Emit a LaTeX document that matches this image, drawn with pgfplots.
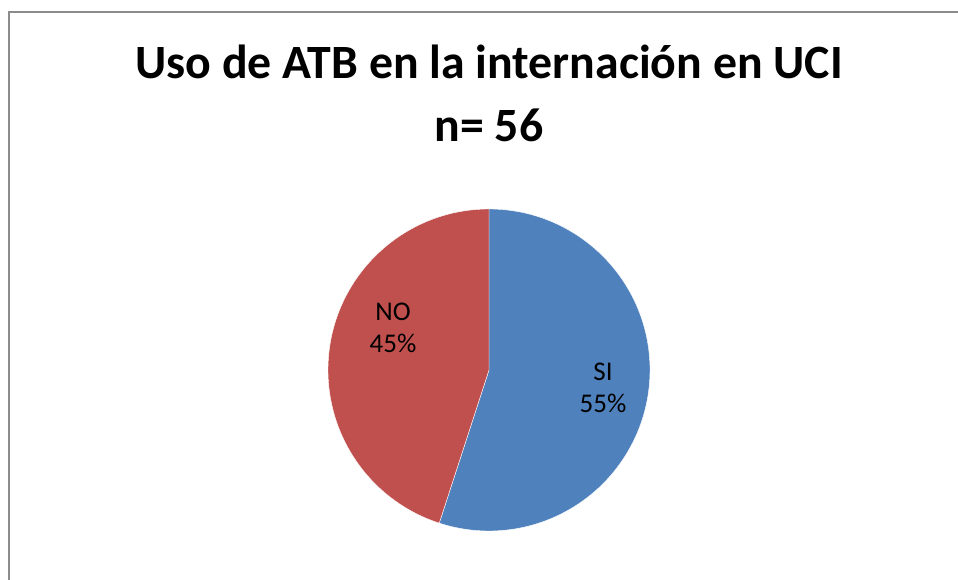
\documentclass[border=0pt]{standalone}
\usepackage{fontspec}
\setmainfont{Carlito}
\usepackage{pgfplots}
\pgfplotsset{compat=1.18}
\definecolor{siblue}{HTML}{4F81BD}
\definecolor{nored}{HTML}{C0504D}
\definecolor{frame}{HTML}{8C8C8C}

% shares of the pie (percent)
\pgfmathsetmacro{\si}{55}
\pgfmathsetmacro{\no}{45}
\pgfmathsetmacro{\siangle}{-3.6*\si}
\pgfmathsetmacro{\noangle}{3.6*\no}

\begin{document}
\begin{tikzpicture}
\begin{axis}[
  scale only axis, width=958pt, height=579pt,
  xmin=0, xmax=958, ymin=0, ymax=579,
  hide axis, clip=false,
]
\fill[siblue, draw=white, line width=0.4pt] (axis cs:489,209) -- (axis cs:489,370)
  arc[start angle=90, delta angle=\siangle, radius=161pt] -- cycle;
\fill[nored, draw=white, line width=0.4pt] (axis cs:489,209) -- (axis cs:489,370)
  arc[start angle=90, delta angle=\noangle, radius=161pt] -- cycle;
\node[align=center, font=\fontsize{27}{32}\selectfont] at (axis cs:393,251) {NO\\45\%};
\node[align=center, font=\fontsize{27}{32}\selectfont] at (axis cs:603,191) {SI\\55\%};
\node[anchor=base, font=\fontsize{47.8}{58}\selectfont\bfseries] at (axis cs:489,500) {Uso de ATB en la internación en UCI};
\node[anchor=base, font=\fontsize{47.8}{58}\selectfont\bfseries] at (axis cs:489,437) {n= 56};
\draw[frame, line width=2pt] (axis cs:9,-20) -- (axis cs:9,566.5) -- (axis cs:980,566.5);
\end{axis}
\pgfresetboundingbox
\path[use as bounding box] (0,0) rectangle (958pt,579pt);
\end{tikzpicture}
\end{document}
